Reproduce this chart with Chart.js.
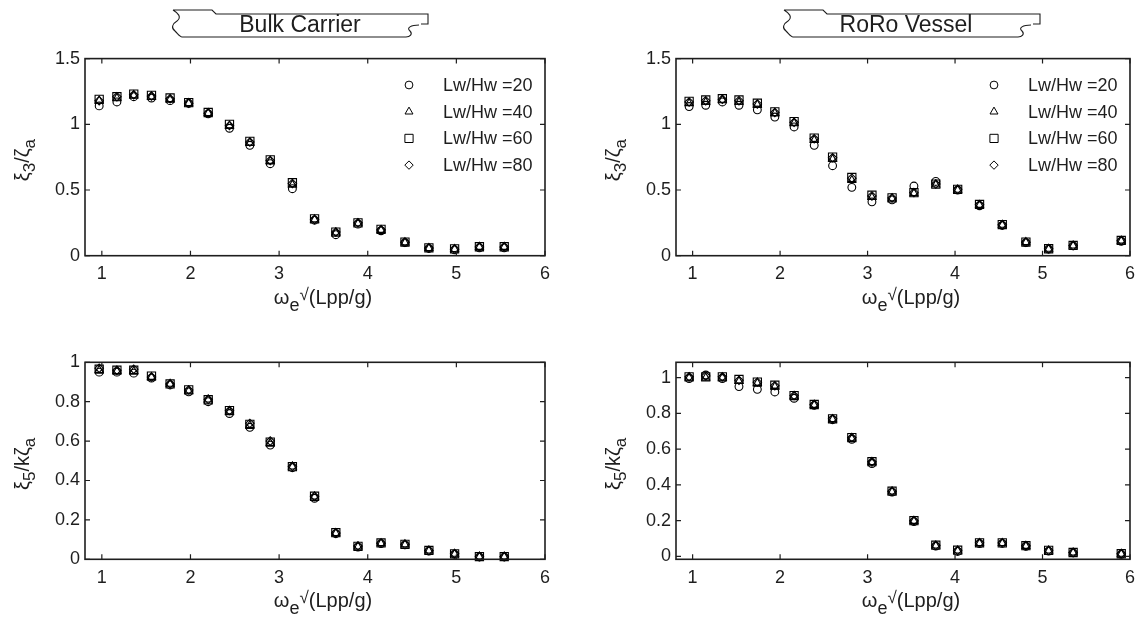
<!DOCTYPE html>
<html>
<head>
<meta charset="utf-8">
<script src="https://cdn.jsdelivr.net/npm/chart.js@4"></script>
<style>
  html, body { margin: 0; padding: 0; background: #fff; }
  #page { position: relative; width: 1143px; height: 624px; overflow: hidden; }
  .panel { position: absolute; }
  svg.banner { position: absolute; left: 0; top: 0; pointer-events: none; }
</style>
</head>
<body>
<div id="page">
  <div class="panel" style="left:0;top:0;width:571px;height:312px"><canvas id="bulkHeave"></canvas></div>
  <div class="panel" style="left:571px;top:0;width:572px;height:312px"><canvas id="roroHeave"></canvas></div>
  <div class="panel" style="left:0;top:312px;width:571px;height:312px"><canvas id="bulkPitch"></canvas></div>
  <div class="panel" style="left:571px;top:312px;width:572px;height:312px"><canvas id="roroPitch"></canvas></div>
  <svg class="banner" width="1143" height="60" id="banners"></svg>
</div>
<script>
// ---- data ----
const seriesLabels = ['Lw/Hw =20', 'Lw/Hw =40', 'Lw/Hw =60', 'Lw/Hw =80'];
const xTicks = [1, 2, 3, 4, 5, 6];
const heaveTicks = [0, 0.5, 1, 1.5];
const pitchTicks = [0, 0.2, 0.4, 0.6, 0.8, 1];

const bulkOmega = [0.97, 1.17, 1.36, 1.56, 1.77, 1.98, 2.20, 2.44, 2.67, 2.90, 3.15, 3.40, 3.64, 3.89, 4.15, 4.42, 4.69, 4.98, 5.26, 5.54];
const bulkHeave20 = [1.14, 1.17, 1.21, 1.20, 1.18, 1.16, 1.08, 0.97, 0.84, 0.70, 0.51, 0.27, 0.16, 0.24, 0.19, 0.10, 0.055, 0.045, 0.06, 0.06];
const bulkHeave40 = [1.18, 1.20, 1.22, 1.21, 1.19, 1.16, 1.085, 0.99, 0.86, 0.72, 0.54, 0.275, 0.175, 0.245, 0.195, 0.10, 0.057, 0.05, 0.066, 0.066];
const bulkHeave60 = [1.19, 1.21, 1.23, 1.22, 1.20, 1.165, 1.09, 1.00, 0.87, 0.73, 0.555, 0.28, 0.18, 0.25, 0.20, 0.104, 0.06, 0.052, 0.068, 0.068];
const bulkHeave80 = [1.18, 1.21, 1.225, 1.215, 1.195, 1.16, 1.085, 0.99, 0.865, 0.725, 0.55, 0.275, 0.18, 0.25, 0.197, 0.102, 0.058, 0.05, 0.067, 0.067];
const bulkPitch20 = [0.95, 0.95, 0.945, 0.92, 0.885, 0.85, 0.80, 0.74, 0.67, 0.58, 0.465, 0.31, 0.13, 0.062, 0.08, 0.073, 0.042, 0.026, 0.012, 0.012];
const bulkPitch40 = [0.96, 0.955, 0.955, 0.925, 0.89, 0.855, 0.81, 0.75, 0.68, 0.59, 0.47, 0.318, 0.132, 0.064, 0.081, 0.075, 0.044, 0.027, 0.013, 0.013];
const bulkPitch60 = [0.965, 0.96, 0.96, 0.93, 0.89, 0.86, 0.81, 0.755, 0.685, 0.595, 0.47, 0.32, 0.135, 0.066, 0.083, 0.076, 0.045, 0.028, 0.014, 0.014];
const bulkPitch80 = [0.97, 0.96, 0.965, 0.925, 0.89, 0.86, 0.812, 0.755, 0.69, 0.60, 0.472, 0.32, 0.134, 0.068, 0.082, 0.076, 0.045, 0.028, 0.014, 0.014];

const roroOmega = [0.96, 1.15, 1.34, 1.53, 1.74, 1.94, 2.16, 2.39, 2.60, 2.82, 3.05, 3.28, 3.53, 3.78, 4.03, 4.28, 4.54, 4.81, 5.07, 5.35, 5.90];
const roroHeave20 = [1.135, 1.145, 1.17, 1.145, 1.11, 1.055, 0.98, 0.84, 0.685, 0.52, 0.41, 0.425, 0.53, 0.565, 0.50, 0.38, 0.23, 0.10, 0.05, 0.075, 0.11];
const roroHeave40 = [1.16, 1.17, 1.185, 1.17, 1.15, 1.085, 1.01, 0.88, 0.735, 0.575, 0.445, 0.435, 0.475, 0.54, 0.50, 0.385, 0.234, 0.102, 0.051, 0.076, 0.113];
const roroHeave60 = [1.175, 1.185, 1.195, 1.185, 1.16, 1.095, 1.02, 0.895, 0.75, 0.595, 0.46, 0.44, 0.48, 0.545, 0.505, 0.39, 0.237, 0.104, 0.053, 0.078, 0.116];
const roroHeave80 = [1.17, 1.18, 1.19, 1.18, 1.155, 1.09, 1.015, 0.89, 0.745, 0.59, 0.455, 0.44, 0.48, 0.545, 0.505, 0.388, 0.236, 0.103, 0.052, 0.077, 0.115];
const roroPitch20 = [0.995, 1.015, 0.995, 0.95, 0.935, 0.92, 0.885, 0.845, 0.765, 0.655, 0.52, 0.36, 0.195, 0.058, 0.028, 0.072, 0.073, 0.057, 0.03, 0.02, 0.012];
const roroPitch40 = [1.0, 1.0, 1.0, 0.98, 0.97, 0.95, 0.895, 0.847, 0.767, 0.66, 0.527, 0.362, 0.198, 0.06, 0.032, 0.074, 0.074, 0.058, 0.032, 0.021, 0.014];
const roroPitch60 = [1.005, 1.005, 1.005, 0.99, 0.975, 0.958, 0.90, 0.85, 0.77, 0.665, 0.53, 0.365, 0.20, 0.063, 0.035, 0.076, 0.076, 0.06, 0.034, 0.022, 0.015];
const roroPitch80 = [1.005, 1.01, 1.005, 0.985, 0.975, 0.955, 0.90, 0.85, 0.77, 0.665, 0.53, 0.365, 0.20, 0.062, 0.034, 0.076, 0.076, 0.06, 0.034, 0.022, 0.015];

// ---- styling ----
const FONT = 'Liberation Sans, Arial, sans-serif';
const INK = '#1e1e1e';
const markerStyles = ['circle', 'triangle', 'rect', 'rectRot'];
const markerSizes = [3.9, 4.6, 5.8, 4.2];

const xTitle = [{t: 'ω', size: 20}, {t: 'e', size: 18, dy: 7}, {t: '√', size: 17, dy: -4}, {t: '(Lpp/g)', size: 20}];
const heaveTitle = [{t: 'ξ', size: 20}, {t: '3', size: 17, dy: 6}, {t: '/', size: 20}, {t: 'ζ', size: 20}, {t: 'a', size: 17, dy: 6}];
const pitchTitle = [{t: 'ξ', size: 20}, {t: '5', size: 17, dy: 6}, {t: '/k', size: 20}, {t: 'ζ', size: 20}, {t: 'a', size: 17, dy: 6}];

function marker(ctx, style, r, x, y) {
  ctx.beginPath();
  if (style === 'circle') {
    ctx.arc(x, y, r, 0, Math.PI * 2);
  } else if (style === 'triangle') {
    let a = 0;
    ctx.moveTo(x + Math.sin(a) * r, y - Math.cos(a) * r);
    a += Math.PI * 2 / 3; ctx.lineTo(x + Math.sin(a) * r, y - Math.cos(a) * r);
    a += Math.PI * 2 / 3; ctx.lineTo(x + Math.sin(a) * r, y - Math.cos(a) * r);
  } else if (style === 'rect') {
    const h = r * Math.SQRT1_2;
    ctx.rect(x - h, y - h, 2 * h, 2 * h);
  } else {
    ctx.moveTo(x, y - r); ctx.lineTo(x + r, y); ctx.lineTo(x, y + r); ctx.lineTo(x - r, y);
  }
  ctx.closePath();
  ctx.stroke();
}

function drawRich(ctx, segs, cx, cy, rotated) {
  let w = 0;
  const widths = segs.map(s => { ctx.font = s.size + 'px ' + FONT; const m = ctx.measureText(s.t).width; w += m; return m; });
  ctx.save();
  ctx.translate(cx, cy);
  if (rotated) ctx.rotate(-Math.PI / 2);
  ctx.fillStyle = INK;
  ctx.textBaseline = 'alphabetic';
  ctx.textAlign = 'left';
  let x = -w / 2;
  segs.forEach((s, i) => {
    ctx.font = s.size + 'px ' + FONT;
    ctx.fillText(s.t, x, s.dy || 0);
    x += widths[i];
  });
  ctx.restore();
}

// box with inward ticks, axis titles and legend, MATLAB style
const framePlugin = {
  id: 'frame',
  afterDraw(chart, args, o) {
    const {ctx, chartArea: a} = chart;
    const xs = chart.scales.x, ys = chart.scales.y;
    ctx.save();
    ctx.strokeStyle = INK;
    ctx.lineWidth = 1.6;
    ctx.strokeRect(a.left, a.top, a.right - a.left, a.bottom - a.top);
    ctx.lineWidth = 1.2;
    ctx.beginPath();
    xs.ticks.forEach(t => {
      const p = xs.getPixelForValue(t.value);
      ctx.moveTo(p, a.bottom); ctx.lineTo(p, a.bottom - 5);
      ctx.moveTo(p, a.top); ctx.lineTo(p, a.top + 5);
    });
    ys.ticks.forEach(t => {
      const p = ys.getPixelForValue(t.value);
      ctx.moveTo(a.left, p); ctx.lineTo(a.left + 5, p);
      ctx.moveTo(a.right, p); ctx.lineTo(a.right - 5, p);
    });
    ctx.stroke();

    drawRich(ctx, xTitle, (a.left + a.right) / 2 + 8, a.bottom + 48, false);
    drawRich(ctx, o.yTitle, a.left - 56, (a.top + a.bottom) / 2 + 3, true);

    if (o.legend) {
      ctx.lineWidth = 1;
      ctx.font = '18px ' + FONT;
      ctx.textBaseline = 'middle';
      ctx.fillStyle = INK;
      chart.data.datasets.forEach((ds, i) => {
        const y = a.top + 26.4 + i * 26.7;
        ctx.strokeStyle = '#000';
        marker(ctx, ds.pointStyle, ds.pointRadius, a.right - 136, y);
        ctx.fillText(ds.label, a.right - 102, y + 1);
      });
    }
    ctx.restore();
  }
};

function makeChart(id, omega, series, yMin, yMax, yTicks, opt) {
  const datasets = series.map((vals, i) => ({
    label: seriesLabels[i],
    data: omega.map((x, j) => ({x: x, y: vals[j]})),
    pointStyle: markerStyles[i],
    pointRadius: markerSizes[i],
    pointHoverRadius: markerSizes[i],
    borderColor: '#000',
    backgroundColor: 'rgba(0,0,0,0)',
    borderWidth: 1.1,
    showLine: false,
    clip: false
  }));
  const tickFont = {family: FONT, size: 18};
  return new Chart(document.getElementById(id), {
    type: 'scatter',
    data: {datasets},
    options: {
      responsive: true,
      maintainAspectRatio: false,
      animation: false,
      events: [],
      layout: {padding: {top: opt.padTop, right: opt.padRight, left: 0, bottom: 0}},
      plugins: {
        legend: {display: false},
        tooltip: {enabled: false},
        frame: {yTitle: opt.yTitle, legend: opt.legend}
      },
      scales: {
        x: {
          type: 'linear', min: 0.81, max: 6,
          afterBuildTicks: s => { s.ticks = xTicks.map(v => ({value: v})); },
          afterFit: s => { s.height = opt.xHeight; },
          grid: {display: false, drawTicks: false},
          border: {display: false},
          ticks: {padding: 8, color: INK, font: tickFont, callback: v => String(v)}
        },
        y: {
          type: 'linear', min: yMin, max: yMax,
          afterBuildTicks: s => { s.ticks = yTicks.map(v => ({value: v})); },
          afterFit: s => { s.width = opt.yWidth; },
          grid: {display: false, drawTicks: false},
          border: {display: false},
          ticks: {padding: 5, color: INK, font: tickFont, callback: v => String(v)}
        }
      }
    },
    plugins: [framePlugin]
  });
}

makeChart('bulkHeave', bulkOmega, [bulkHeave20, bulkHeave40, bulkHeave60, bulkHeave80], 0, 1.5, heaveTicks,
  {padTop: 58.6, padRight: 26, xHeight: 56.3, yWidth: 85, yTitle: heaveTitle, legend: true});
makeChart('roroHeave', roroOmega, [roroHeave20, roroHeave40, roroHeave60, roroHeave80], 0, 1.5, heaveTicks,
  {padTop: 58.6, padRight: 8, xHeight: 56.3, yWidth: 105, yTitle: heaveTitle, legend: true});
makeChart('bulkPitch', bulkOmega, [bulkPitch20, bulkPitch40, bulkPitch60, bulkPitch80], 0, 1, pitchTicks,
  {padTop: 50.3, padRight: 26, xHeight: 64.7, yWidth: 85, yTitle: pitchTitle, legend: false});
makeChart('roroPitch', roroOmega, [roroPitch20, roroPitch40, roroPitch60, roroPitch80], -0.016, 1.086, pitchTicks,
  {padTop: 50.3, padRight: 8, xHeight: 64.7, yWidth: 105, yTitle: pitchTitle, legend: false});

// ship-shaped title banners
function bannerPath(x0, x1) {
  return [
    `M${x0 + 1} 10 L${x0 + 40} 10 L${x0 + 44} 14 L${x1} 14 L${x1} 24 L${x1 - 7} 24`,
    `M${x1 - 9} 25 C${x1 - 17} 25 ${x1 - 22} 28 ${x1 - 18} 31 C${x1 - 15} 34 ${x1 - 18} 37 ${x1 - 22} 37`,
    `M${x1 - 22} 37 L${x0 + 10} 37`,
    `M${x0 + 1} 10 C${x0 + 6} 13 ${x0 + 10} 17 ${x0 + 5} 21 C${x0} 24 ${x0 - 1} 28 ${x0 + 3} 31 C${x0 + 6} 34 ${x0 + 8} 37 ${x0 + 10} 37`
  ].join(' ');
}
const banners = [
  {text: 'Bulk Carrier', x0: 172, x1: 428, cx: 300},
  {text: 'RoRo Vessel', x0: 783, x1: 1040, cx: 906}
];
const svg = document.getElementById('banners');
svg.innerHTML = banners.map(b =>
  `<path d="${bannerPath(b.x0, b.x1)}" fill="none" stroke="${INK}" stroke-width="1.1"/>` +
  `<text x="${b.cx}" y="32" text-anchor="middle" font-family="${FONT}" font-size="23" fill="${INK}">${b.text}</text>`
).join('');
</script>
</body>
</html>
